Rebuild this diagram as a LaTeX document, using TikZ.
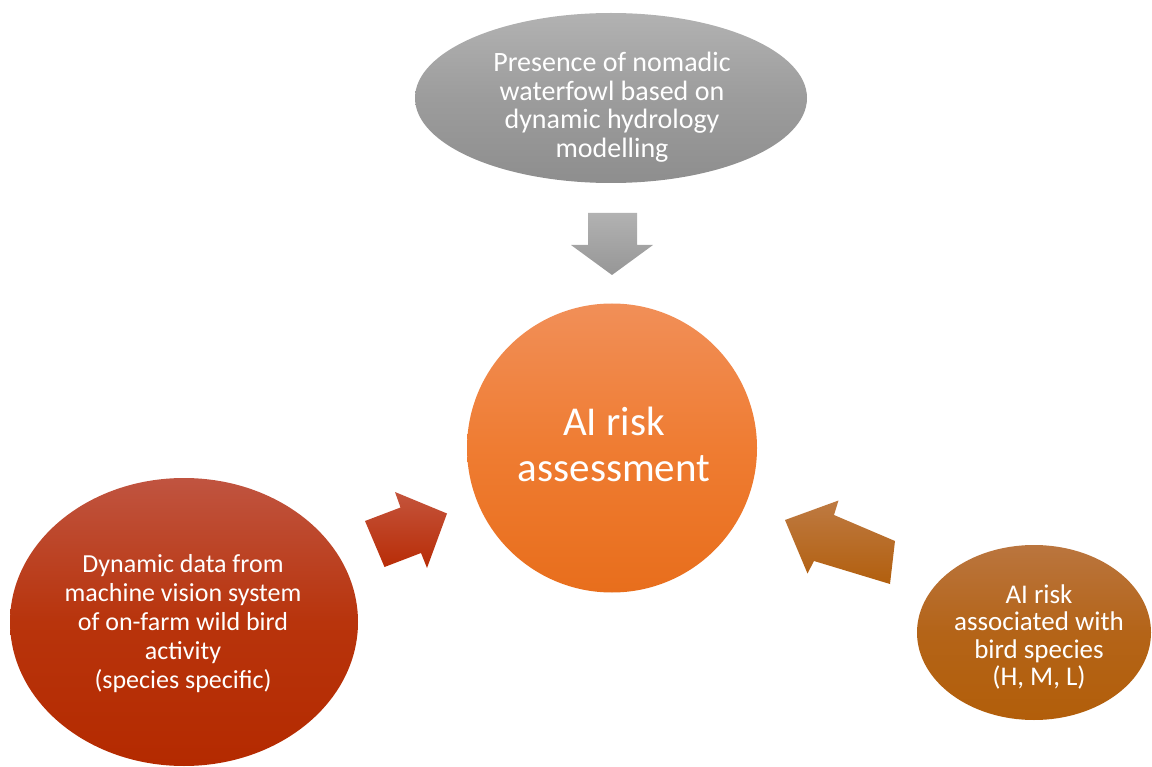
\documentclass[tikz,border=0pt]{standalone}
\usepackage{fontspec}
\setmainfont{Carlito}
\usetikzlibrary{shapes.geometric}
\definecolor{grayT}{RGB}{178,178,178}
\definecolor{grayM}{RGB}{156,156,156}
\definecolor{grayB}{RGB}{142,142,142}
\definecolor{garrT}{RGB}{178,178,178}
\definecolor{garrB}{RGB}{150,150,150}
\definecolor{oraT}{RGB}{241,143,88}
\definecolor{oraM}{RGB}{239,124,50}
\definecolor{oraB}{RGB}{232,110,28}
\definecolor{redT}{RGB}{192,84,64}
\definecolor{redM}{RGB}{184,52,12}
\definecolor{redB}{RGB}{180,42,0}
\definecolor{rarrT}{RGB}{196,84,60}
\definecolor{rarrB}{RGB}{184,44,6}
\definecolor{brnT}{RGB}{186,117,62}
\definecolor{brnM}{RGB}{180,100,24}
\definecolor{brnB}{RGB}{178,94,10}
\definecolor{barrT}{RGB}{190,122,66}
\definecolor{barrB}{RGB}{178,95,14}
\begin{document}
\begin{tikzpicture}[x=1pt,y=-1pt,
  blob/.style={ellipse, inner sep=0pt, draw=none},
  lbl/.style={text=white, align=center, inner sep=0pt}]
\useasboundingbox (0,0) rectangle (1152,767);
% shapes
\node[blob, minimum width=392pt, minimum height=170pt, top color=grayT, bottom color=grayB, middle color=grayM] (top) at (611,98) {};
\node[blob, minimum width=290pt, minimum height=289pt, top color=oraT, bottom color=oraB, middle color=oraM] (mid) at (612,448) {};
\node[blob, minimum width=348pt, minimum height=288pt, top color=redT, bottom color=redB, middle color=redM] (left) at (184,622) {};
\node[blob, minimum width=234pt, minimum height=175pt, top color=brnT, bottom color=brnB, middle color=brnM] (right) at (1034,632.5) {};
% texts
\node[lbl, font=\fontsize{28}{28.5}\selectfont] (toptext) at (612,107)
  {Presence of nomadic\\waterfowl based on\\dynamic hydrology\\modelling};
\node[lbl, font=\fontsize{41}{46}\selectfont] (midtext) at (614,444.5)
  {AI risk\\assessment};
\node[lbl, font=\fontsize{26}{29}\selectfont] (lefttext) at (183,623.5)
  {Dynamic data from\\machine vision system\\of on-farm wild bird\\activity\\(species specific)};
\node[lbl, font=\fontsize{27}{27.3}\selectfont] (righttext) at (1039,637)
  {AI risk\\associated with\\bird species\\(H, M, L)};
% block arrows
\shade[top color=garrT, bottom color=garrB]
  (588,213) -- (637,213) -- (637,245) -- (653,245) -- (612,275) -- (571,245) -- (588,245) -- cycle;
\shade[top color=rarrT, bottom color=rarrB]
  (365,521) -- (400.5,507.5) -- (395,492) -- (447,513.5) -- (427,568) -- (421,553) -- (384.5,567) -- cycle;
\shade[top color=barrT, bottom color=barrB]
  (785,520) -- (838.5,500.5) -- (834,515) -- (895,541) -- (890,584) -- (814,561) -- (807.5,573.5) -- cycle;
\end{tikzpicture}
\end{document}
